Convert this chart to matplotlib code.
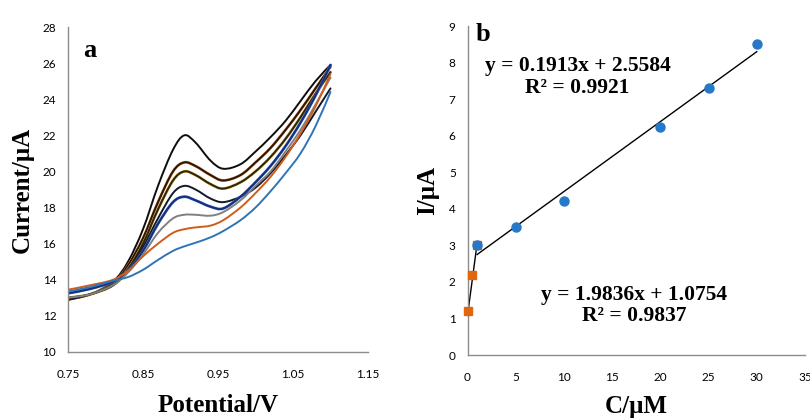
import matplotlib
matplotlib.use("Agg")
import matplotlib.pyplot as plt
import matplotlib.patheffects as pe
from matplotlib.path import Path
from matplotlib.patches import PathPatch
import numpy as np

# ---------------- data: panel a (voltammograms) ----------------
potential = [0.75, 0.78, 0.81, 0.83, 0.85, 0.87, 0.89, 0.905, 0.92, 0.94,
             0.957, 0.98, 1.00, 1.02, 1.04, 1.06, 1.08, 1.10]
curve_1 = [12.9, 13.2, 13.9, 15.0, 16.8, 19.2, 21.2, 22.0, 21.6, 20.6,
           20.15, 20.4, 21.1, 21.9, 22.8, 23.9, 25.0, 25.9]
curve_2 = [12.9, 13.2, 13.8, 14.8, 16.3, 18.3, 20.0, 20.5, 20.3, 19.8,
           19.5, 19.8, 20.5, 21.3, 22.3, 23.4, 24.6, 25.8]
curve_3 = [13.0, 13.2, 13.7, 14.6, 16.0, 17.9, 19.5, 20.0, 19.8, 19.3,
           19.05, 19.4, 20.0, 20.8, 21.8, 23.0, 24.3, 25.5]
curve_4 = [12.9, 13.2, 13.7, 14.5, 15.8, 17.4, 18.8, 19.2, 19.0, 18.5,
           18.3, 18.6, 19.1, 19.9, 20.9, 22.0, 23.3, 24.6]
curve_5 = [13.25, 13.5, 13.9, 14.5, 15.6, 17.1, 18.3, 18.6, 18.4, 18.05,
           17.95, 18.6, 19.4, 20.3, 21.4, 22.7, 24.2, 25.9]
curve_6 = [13.0, 13.2, 13.7, 14.4, 15.4, 16.6, 17.4, 17.6, 17.6, 17.55,
           17.75, 18.4, 19.2, 20.0, 21.1, 22.3, 23.7, 25.2]
curve_7 = [13.45, 13.7, 14.0, 14.5, 15.3, 16.0, 16.6, 16.8, 16.9, 17.0,
           17.3, 18.0, 18.8, 19.7, 20.8, 22.1, 23.6, 25.4]
curve_8 = [13.35, 13.6, 13.95, 14.15, 14.55, 15.1, 15.6, 15.85, 16.05, 16.35,
           16.7, 17.3, 18.0, 18.9, 19.9, 21.0, 22.5, 24.4]
curves = [curve_1, curve_2, curve_3, curve_4, curve_5, curve_6, curve_7, curve_8]
curve_colors = ["#0d0d0d", "#2a1608", "#2e2608", "#141828", "#13307e",
                "#808080", "#cf5d1a", "#2e75b6"]
curve_glow = [None, "#d98040", "#c8a040", None, "#4a70c0", None, None, None]

a_xticks = [0.75, 0.85, 0.95, 1.05, 1.15]
a_yticks = [10, 12, 14, 16, 18, 20, 22, 24, 26, 28]

# ---------------- data: panel b (calibration) ----------------
conc_low = [0.1, 0.5, 1.0]
curr_low = [1.2, 2.2, 3.0]
conc_high = [1, 5, 10, 20, 25, 30]
curr_high = [3.0, 3.5, 4.2, 6.25, 7.3, 8.5]
fit_high = (0.1913, 2.5584, 0.9921)
fit_low = (1.9836, 1.0754, 0.9837)
b_xticks = [0, 5, 10, 15, 20, 25, 30, 35]
b_yticks = [0, 1, 2, 3, 4, 5, 6, 7, 8, 9]


def smooth_path(xs, ys):
    """Smoothed (Catmull-Rom as cubic Bezier) path through the data points."""
    p = np.column_stack([xs, ys]).astype(float)
    ext = np.vstack([p[0], p, p[-1]])
    verts = [p[0]]
    codes = [Path.MOVETO]
    for i in range(len(p) - 1):
        p0, p1, p2, p3 = ext[i], ext[i + 1], ext[i + 2], ext[i + 3]
        c1 = p1 + (p2 - p0) / 6.0
        c2 = p2 - (p3 - p1) / 6.0
        verts += [c1, c2, p2]
        codes += [Path.CURVE4] * 3
    return Path(verts, codes)


# ---------------- figure ----------------
fig = plt.figure(figsize=(8.10, 4.18), dpi=100)
serif = "Liberation Serif"
tickfont = "Lato"
spine_col = "#8c8c8c"


def style_axes(ax):
    for s in ["top", "right"]:
        ax.spines[s].set_visible(False)
    for s in ["left", "bottom"]:
        ax.spines[s].set_color(spine_col)
        ax.spines[s].set_linewidth(1.0)
    ax.tick_params(length=0, labelsize=8.5, colors="black")
    for lab in ax.get_xticklabels() + ax.get_yticklabels():
        lab.set_fontfamily(tickfont)


# panel a
axa = fig.add_axes([68 / 810, 1 - 352 / 418, 300 / 810, 325 / 418])
for ys, col, glow in zip(curves, curve_colors, curve_glow):
    patch = PathPatch(smooth_path(potential, ys), facecolor="none",
                      edgecolor=col, lw=1.4, capstyle="round")
    if glow:
        patch.set_path_effects([pe.Stroke(linewidth=2.0, foreground=glow), pe.Normal()])
    axa.add_patch(patch)
axa.set_xlim(0.75, 1.15)
axa.set_ylim(10, 28)
axa.set_xticks(a_xticks)
axa.set_xticklabels([f"{v:.2f}" for v in a_xticks])
axa.set_yticks(a_yticks)
style_axes(axa)
axa.tick_params(axis="x", pad=12)
axa.tick_params(axis="y", pad=8.5)
axa.set_xlabel("Potential/V", fontfamily=serif, fontweight="bold", fontsize=18, labelpad=10)
axa.set_ylabel("Current/μA", fontfamily=serif, fontweight="bold", fontsize=18, labelpad=6)
axa.text(0.05, 0.929, "a", transform=axa.transAxes, fontfamily=serif,
         fontweight="bold", fontsize=19, va="center", ha="left")

# panel b
axb = fig.add_axes([467.5 / 810, 1 - 355 / 418, 337.5 / 810, 329 / 418])
xl = np.array([conc_low[0], conc_low[-1]])
axb.plot(xl, fit_low[0] * xl + fit_low[1], color="black", lw=1.0, zorder=2)
xh = np.array([conc_high[0], conc_high[-1]])
axb.plot(xh, fit_high[0] * xh + fit_high[1], color="black", lw=1.0, zorder=2)
axb.plot(conc_low, curr_low, "s", color="#e2650f", ms=6, mec="#e2650f",
         zorder=3, clip_on=False)
axb.plot(conc_high, curr_high, "o", color="#2878c8", ms=6.5, mec="#2878c8",
         zorder=4, clip_on=False)
axb.set_xlim(0, 35)
axb.set_ylim(0, 9)
axb.set_xticks(b_xticks)
axb.set_yticks(b_yticks)
style_axes(axb)
axb.tick_params(axis="x", pad=12)
axb.tick_params(axis="y", pad=8.5)
axb.set_xlabel("C/μM", fontfamily=serif, fontweight="bold", fontsize=18, labelpad=9)
axb.set_ylabel("I/μA", fontfamily=serif, fontweight="bold", fontsize=18, labelpad=7)
axb.text(0.025, 0.975, "b", transform=axb.transAxes, fontfamily=serif,
         fontweight="bold", fontsize=19, va="center", ha="left")
axb.text(11.4, 7.6, f"y = {fit_high[0]}x + {fit_high[1]}\nR² = {fit_high[2]}",
         fontfamily=serif, fontweight="bold", fontsize=15.5, ha="center", va="center",
         linespacing=1.1)
axb.text(17.3, 1.35, f"y = {fit_low[0]}x + {fit_low[1]}\nR² = {fit_low[2]}",
         fontfamily=serif, fontweight="bold", fontsize=15.5, ha="center", va="center",
         linespacing=1.1)

fig.savefig("out.png", dpi=100)
